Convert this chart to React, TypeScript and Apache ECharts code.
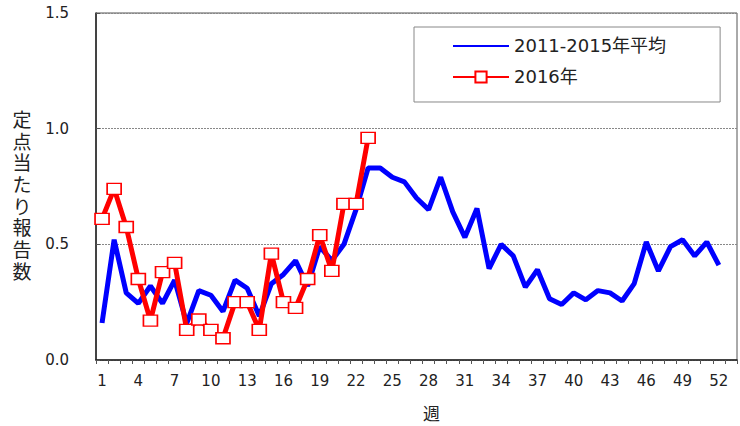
import React, { useEffect, useRef } from "react";
import * as echarts from "echarts";

const weeks: string[] = [
  "1","2","3","4","5","6","7","8","9","10","11","12","13","14","15","16","17","18","19","20",
  "21","22","23","24","25","26","27","28","29","30","31","32","33","34","35","36","37","38","39","40",
  "41","42","43","44","45","46","47","48","49","50","51","52","",
];

const avg2011to2015: number[] = [
  0.16, 0.52, 0.29, 0.245, 0.32, 0.245, 0.345, 0.158, 0.3, 0.28,
  0.21, 0.345, 0.31, 0.19, 0.33, 0.37, 0.43, 0.32, 0.49, 0.43,
  0.5, 0.65, 0.83, 0.83, 0.79, 0.77, 0.7, 0.65, 0.79, 0.64,
  0.53, 0.655, 0.395, 0.5, 0.45, 0.315, 0.39, 0.265, 0.24, 0.29,
  0.26, 0.3, 0.29, 0.255, 0.33, 0.51, 0.385, 0.49, 0.52, 0.45,
  0.51, 0.41,
];

const year2016: number[] = [
  0.61, 0.74, 0.575, 0.35, 0.17, 0.38, 0.42, 0.13, 0.175, 0.13,
  0.094, 0.25, 0.25, 0.13, 0.46, 0.25, 0.225, 0.35, 0.54, 0.385,
  0.675, 0.675, 0.96,
];

const yTicks = { min: 0, max: 1.5, interval: 0.5 };
const seriesNames = ["2011-2015年平均", "2016年"];
const yName = "定点当たり報告数";
const xName = "週";

const FONT = "'DejaVu Sans', 'Noto Sans CJK JP', sans-serif";

export default function App() {
  const ref = useRef<HTMLDivElement>(null);
  useEffect(() => {
    if (!ref.current) return;
    const chart = echarts.init(ref.current, null, { renderer: "svg" });
    chart.setOption({
      animation: false,
      backgroundColor: "#ffffff",
      textStyle: { fontFamily: FONT },
      graphic: [
        {
          type: "text",
          x: 22,
          y: 109,
          style: {
            text: yName.split("").join("\n"),
            fontSize: 19,
            fontFamily: FONT,
            lineHeight: 21.7,
            fill: "#222",
            align: "center",
            verticalAlign: "top",
          },
        },
      ],
      grid: {
        left: 96,
        right: 3,
        top: 13,
        height: 347,
        outerBoundsMode: "none",
        containLabel: false,
        show: true,
        borderColor: "#555",
        borderWidth: 1,
        backgroundColor: "transparent",
      },
      legend: {
        left: 414,
        top: 27,
        orient: "vertical",
        backgroundColor: "#fff",
        borderColor: "#888",
        borderWidth: 1,
        padding: [10, 54, 16, 38],
        itemGap: 13,
        itemWidth: 56,
        itemHeight: 14,
        textStyle: { fontSize: 18, color: "#222", fontFamily: FONT },
        data: [
          { name: seriesNames[0], itemStyle: { opacity: 0 } },
          { name: seriesNames[1] },
        ],
      },
      xAxis: {
        type: "category",
        data: weeks,
        boundaryGap: true,
        name: xName,
        nameLocation: "middle",
        nameGap: 45,
        nameTextStyle: { fontSize: 17, color: "#222", padding: [0, 0, 0, 30] },
        axisLine: { lineStyle: { color: "#222", width: 1.5 } },
        axisTick: { show: true, interval: 0, length: 4, lineStyle: { color: "#555" } },
        axisLabel: { interval: 2, fontSize: 15, color: "#222", margin: 13 },
        splitLine: { show: false },
      },
      yAxis: {
        type: "value",
        min: yTicks.min,
        max: yTicks.max,
        interval: yTicks.interval,
        axisLine: { show: true, lineStyle: { color: "#222", width: 1.5 } },
        axisTick: { show: true, inside: true, length: 4, lineStyle: { color: "#555" } },
        axisLabel: {
          fontSize: 15,
          color: "#222",
          margin: 27,
          formatter: (v: number) => v.toFixed(1),
        },
        splitLine: { show: true, lineStyle: { color: "#888", type: [2, 1], width: 1 } },
      },
      series: [
        {
          name: seriesNames[0],
          type: "line",
          data: avg2011to2015,
          symbol: "none",
          lineStyle: { color: "#0000ff", width: 5 },
          itemStyle: { color: "#0000ff" },
          z: 2,
        },
        {
          name: seriesNames[1],
          type: "line",
          data: year2016,
          symbol: "rect",
          symbolSize: [14, 11],
          showAllSymbol: true,
          lineStyle: { color: "#ff0000", width: 5 },
          itemStyle: { color: "#ffffff", borderColor: "#ff0000", borderWidth: 1.5 },
          z: 3,
        },
      ],
    });
    return () => chart.dispose();
  }, []);
  return <div ref={ref} style={{ width: 740, height: 426, position: "absolute", left: 0, top: 0 }} />;
}
